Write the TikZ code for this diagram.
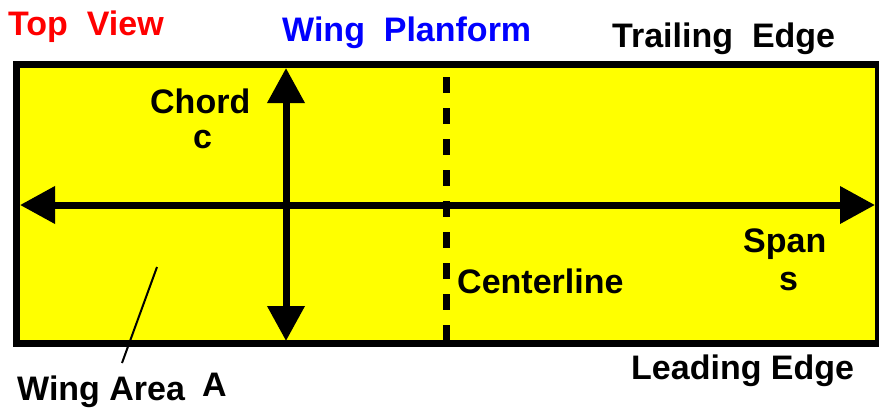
\documentclass[tikz,border=0pt]{standalone}
\usepackage{fontspec}
\setmainfont{Liberation Sans}
\usetikzlibrary{arrows.meta}
\definecolor{wingyellow}{RGB}{255,255,0}
\definecolor{titlered}{RGB}{255,0,0}
\definecolor{titleblue}{RGB}{0,0,255}
\begin{document}
\begin{tikzpicture}[x=1pt,y=-1pt,
  lbl/.style={anchor=base west,inner sep=0pt,font=\fontsize{34}{40}\bfseries\selectfont},
  wingbox/.style={draw=black,fill=wingyellow,line width=7pt,inner sep=0pt,outer sep=0pt},
  dimarrow/.style={line width=7pt,-{Triangle[length=35pt,width=36pt]},shorten <=0pt},
  dimboth/.style={line width=7pt,{Triangle[length=35pt,width=36pt]}-{Triangle[length=35pt,width=36pt]}},
  cline/.style={line width=7pt,dash pattern=on 16pt off 15pt},
  pointer/.style={line width=2pt}]
\useasboundingbox (0,0) rectangle (879,410);
\fill[white] (0,0) rectangle (879,410);
% wing
\node[wingbox,minimum width=862pt,minimum height=279pt] (wing) at (447.5,204) {};
% coordinates
\coordinate (spanL) at (20,205);
\coordinate (spanR) at (875,205);
\coordinate (chordT) at (286,68);
\coordinate (chordB) at (286,341);
\coordinate (clT) at (446,77);
\coordinate (clB) at (446,341);
\coordinate (areaP) at (157,267);
\coordinate (areaQ) at (122,363);
% centerline
\draw[cline] (clT) -- (clB);
% span and chord
\draw[dimboth] (spanL) -- (spanR);
\draw[dimboth] (chordT) -- (chordB);
% pointer
\draw[pointer] (areaP) -- (areaQ);
% labels
\node[lbl,text=titlered] (top) at (8,35) {Top\ \ View};
\node[lbl,text=titleblue] (plan) at (282,41) {Wing\ \ Planform};
\node[lbl] (te) at (612,47) {Trailing\ \ Edge};
\node[lbl] (chord) at (150,113) {Chord};
\node[lbl] (c) at (193,148) {c};
\node[lbl] (span) at (743,252) {Span};
\node[lbl] (s) at (779,290) {s};
\node[lbl] (cl) at (457,293) {Centerline};
\node[lbl] (le) at (631,379) {Leading Edge};
\node[lbl] (area) at (17,400) {Wing Area};
\node[lbl] (A) at (202,396) {A};
\end{tikzpicture}
\end{document}
